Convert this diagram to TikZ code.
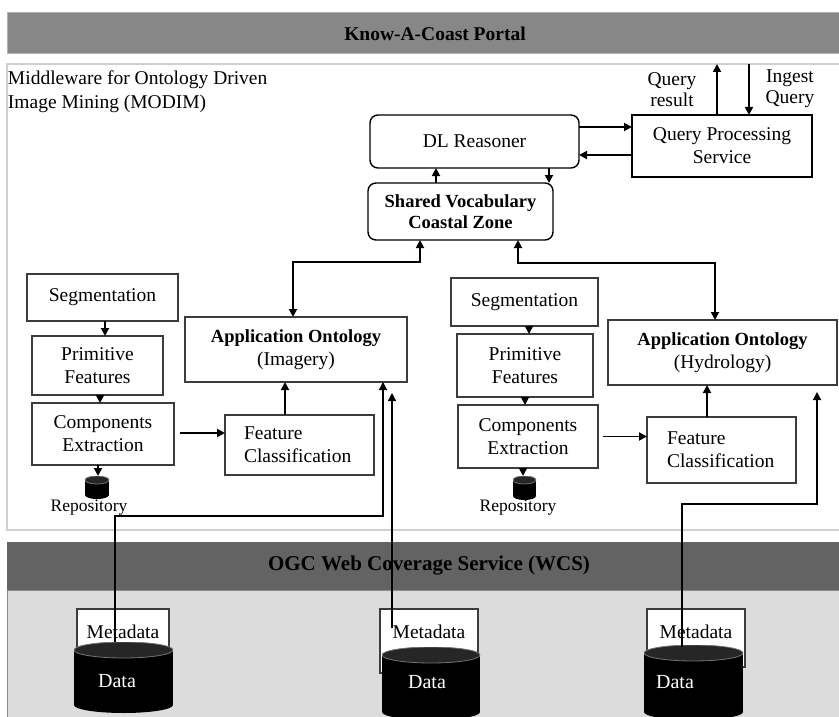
\documentclass[tikz,border=0pt]{standalone}
\usepackage{fontspec}
\setmainfont{Liberation Serif}
\usetikzlibrary{arrows.meta}

\definecolor{portalgray}{HTML}{878787}
\definecolor{wcsgray}{HTML}{636363}
\definecolor{storegray}{HTML}{DCDCDC}
\definecolor{framegray}{HTML}{CFCFCF}
\definecolor{boxline}{HTML}{3C3C3C}

\tikzset{
  txt/.style={font=\fontsize{19.5}{23}\selectfont, align=center, inner sep=0pt, outer sep=0pt},
  boldtxt/.style={txt, font=\fontsize{18.5}{22}\selectfont\bfseries},
  box/.style={txt, draw=boxline, line width=1.2pt, fill=white},
  rbox/.style={box, draw=black, line width=1.4pt, rounded corners=8pt},
  band/.style={inner sep=0pt, outer sep=0pt},
  tip/.tip={Triangle[length=8pt,width=8pt]},
  arr/.style={-tip, line width=1.8pt},
  biarr/.style={tip-tip, line width=1.8pt},
  feed/.style={-tip, line width=1.3pt},
  wire/.style={line width=1.3pt},
  % drum drawn inside the node's rectangle: #1 = half width, #2 = cap half height
  drum/.style 2 args={inner sep=0pt, outer sep=0pt,
    path picture={
      \fill[black] ([yshift=-#2]path picture bounding box.north west)
        rectangle ([yshift=#2]path picture bounding box.south east);
      \fill[black] ([yshift=#2]path picture bounding box.south)
        ellipse [x radius=#1, y radius=#2];
      \filldraw[fill=black!85, draw=black!55, line width=0.8pt]
        ([yshift=-#2]path picture bounding box.north)
        ellipse [x radius=#1, y radius=#2];
    }},
}

\begin{document}
\begin{tikzpicture}[x=1pt,y=-1pt]
\useasboundingbox (0,0) rectangle (839,717);
\fill[white] (0,0) rectangle (839,717);

% ---------------- layers ----------------
\node[band, fill=portalgray, draw=black!30, line width=0.6pt,
      minimum width=843pt, minimum height=41pt] (portal) at (428.5,32.5) {};
\node[txt, font=\fontsize{19.5}{23}\selectfont\bfseries] (portaltitle) at (435,34) {Know-A-Coast Portal};

\node[band, draw=framegray, line width=1.5pt, fill=white,
      minimum width=843pt, minimum height=466pt] (mw) at (428.5,297) {};
\node[txt, font=\fontsize{19.5}{24}\selectfont, align=left, anchor=north west]
      (mwtitle) at (8,70.5) {Middleware for Ontology Driven\\Image Mining (MODIM)};

\node[band, fill=wcsgray, minimum width=843pt, minimum height=48pt] (wcs) at (428.5,566) {};
\node[txt, font=\fontsize{21}{25}\selectfont\bfseries] (wcstitle) at (429,566) {OGC Web Coverage Service (WCS)};

\node[band, fill=storegray, draw=black!45, line width=0.8pt,
      minimum width=843pt, minimum height=140pt] (store) at (428.5,660) {};

% ---------------- reasoning core ----------------
\node[rbox, minimum width=209pt, minimum height=53pt] (dl) at (474.5,141.5) {DL Reasoner};
\node[box, draw=black, line width=1.4pt, minimum width=180pt, minimum height=62pt] (qps) at (722,146)
      {Query Processing\\Service};
\node[rbox, minimum width=185pt, minimum height=57pt, font=\fontsize{18.5}{21}\selectfont\bfseries]
      (sv) at (460.5,211.5) {Shared Vocabulary\\Coastal Zone};

\node[txt, font=\fontsize{19.5}{21}\selectfont] (qrlabel) at (672,90) {Query\\result};
\node[txt, font=\fontsize{19.5}{21}\selectfont] (iqlabel) at (790,89) {Ingest\\Query};

\draw[arr] ([xshift=-5pt]qps.north) -- ([xshift=-5pt]qps.north |- mw.north);
\draw[arr] ([xshift=27pt]qps.north |- mw.north) -- ([xshift=27pt]qps.north);

\draw[arr] ([yshift=14.5pt]dl.east) -- ([yshift=14.5pt]dl.east -| qps.west);
\draw[arr] ([yshift=-13.5pt]dl.east -| qps.west) -- ([yshift=-13.5pt]dl.east);

\draw[arr] ([xshift=-24.5pt]sv.north) -- ([xshift=-24.5pt]sv.north |- dl.south);
\draw[arr] ([xshift=74.5pt]dl.south) -- ([xshift=74.5pt]dl.south |- sv.north);

% ---------------- imagery chain ----------------
\node[box, minimum width=151pt, minimum height=47pt] (seg1) at (102.5,297.5) {Segmentation};
\node[box, minimum width=131pt, minimum height=59pt] (prim1) at (97.5,365.5) {Primitive\\Features};
\node[box, minimum width=142pt, minimum height=62pt] (ce1) at (103,434) {Components\\Extraction};
\node[box, minimum width=149pt, minimum height=60pt, text width=111pt, align=left] (fc1) at (299.5,445)
      {Feature\\Classification};
\node[box, minimum width=222pt, minimum height=65pt] (ontI) at (296,349.5)
      {\textbf{\fontsize{18.5}{22}\selectfont Application Ontology}\\(Imagery)};
\node[drum={12pt}{4pt}, minimum width=24pt, minimum height=23pt] (rep1) at (97,487.5) {};
\node[txt, font=\fontsize{17.5}{20}\selectfont] (rep1label) at (89,508) {Repository};

\draw[arr] ([xshift=2.5pt]seg1.south) -- ([xshift=2.5pt]seg1.south |- prim1.north);
\draw[arr] ([xshift=2.5pt]prim1.south) -- ([xshift=2.5pt]prim1.south |- ce1.north);
\draw[arr] ([xshift=-5pt]ce1.south) -- ([xshift=-5pt]ce1.south |- rep1.north);
\draw[arr] ([xshift=6pt,yshift=1pt]ce1.east) -- ([yshift=1pt]ce1.east -| fc1.west);
\draw[arr] ([xshift=-14.5pt]fc1.north) -- ([xshift=-14.5pt]fc1.north |- ontI.south);

% ---------------- hydrology chain ----------------
\node[box, minimum width=147pt, minimum height=48pt] (seg2) at (524.5,302) {Segmentation};
\node[box, minimum width=136pt, minimum height=63pt] (prim2) at (525,365.5) {Primitive\\Features};
\node[box, minimum width=140pt, minimum height=63pt] (ce2) at (528,436.5) {Components\\Extraction};
\node[box, minimum width=149pt, minimum height=66pt, text width=109pt, align=left] (fc2) at (721.5,450)
      {Feature\\Classification};
\node[box, minimum width=229pt, minimum height=65pt] (ontH) at (722.5,352.5)
      {\textbf{\fontsize{18.5}{22}\selectfont Application Ontology}\\(Hydrology)};
\node[drum={11.5pt}{4pt}, minimum width=23pt, minimum height=24pt] (rep2) at (524.5,488) {};
\node[txt, font=\fontsize{17.5}{20}\selectfont] (rep2label) at (518,508) {Repository};

\draw[arr] ([xshift=4.5pt]seg2.south) -- ([xshift=4.5pt]seg2.south |- prim2.north);
\draw[arr] (prim2.south) -- (prim2.south |- ce2.north);
\draw[arr] ([xshift=-5pt]ce2.south) -- ([xshift=-5pt]ce2.south |- rep2.north);
\draw[arr] ([xshift=5pt]ce2.east) -- (ce2.east -| fc2.west);
\draw[arr] ([xshift=-14.5pt]fc2.north) -- ([xshift=-14.5pt]fc2.north |- ontH.south);

% ---------------- shared vocabulary links ----------------
\coordinate (jl) at (420,262);
\coordinate (jr) at (518,263);
\draw[biarr] ([xshift=-3pt]ontI.north) |- (jl) -- (jl |- sv.south);
\draw[biarr] ([xshift=-7.5pt]ontH.north) |- (jr) -- (jr |- sv.south);

% ---------------- coverage stores ----------------
\node[box, minimum width=92pt, minimum height=46pt] (md1) at (123,632) {Metadata};
\node[box, minimum width=98pt, minimum height=64pt, text depth=18pt] (md2) at (429,641) {Metadata};
\node[box, minimum width=98pt, minimum height=58pt, text depth=12pt] (md3) at (696,638) {Metadata};

\node[drum={49.5pt}{8pt}, minimum width=99pt, minimum height=71pt] (d1) at (123.5,677.5) {};
\node[drum={49pt}{8pt}, minimum width=98pt, minimum height=73pt] (d2) at (431,683.5) {};
\node[drum={49.5pt}{8pt}, minimum width=99pt, minimum height=75pt] (d3) at (693.5,682.5) {};
\node[txt, text=white, font=\fontsize{20}{24}\selectfont] (d1label) at (117,681) {Data};
\node[txt, text=white, font=\fontsize{20}{24}\selectfont] (d2label) at (427,682) {Data};
\node[txt, text=white, font=\fontsize{20}{24}\selectfont] (d3label) at (675,682) {Data};

% feeds from the coverage stores into the application ontologies
\coordinate (f1) at (383,516);
\coordinate (f2) at (392,393);
\coordinate (f3) at (817,504);
\draw[feed] ([xshift=-8.5pt]d1.north) |- (f1) -- (f1 |- ontI.south);
\draw[feed] ([xshift=-39pt,yshift=19pt]d2.north) -- (f2);
\draw[feed] ([xshift=-11.5pt,yshift=-2pt]d3.north) |- (f3) -- ([yshift=-7pt]f3 |- ontH.south);

\end{tikzpicture}
\end{document}
